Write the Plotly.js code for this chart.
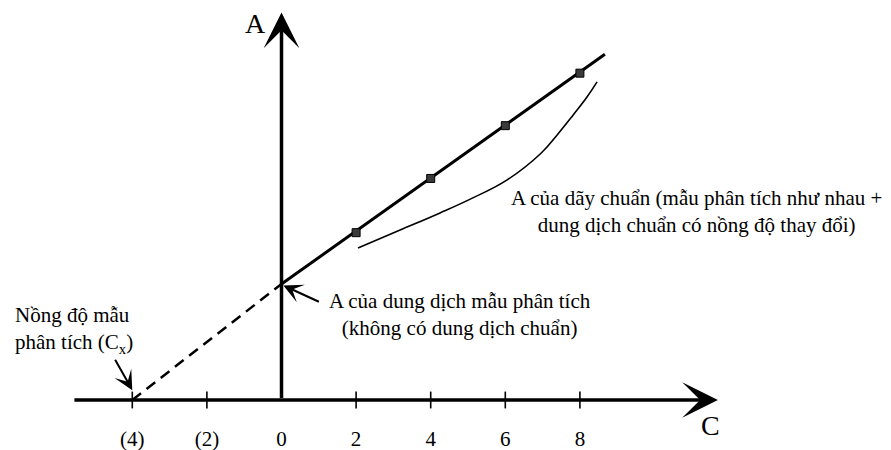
<!DOCTYPE html>
<html>
<head>
<meta charset="utf-8">
<script src="https://cdn.plot.ly/plotly-3.0.1.min.js"></script>
<style>html,body{margin:0;padding:0;background:#fff;}#chart{width:891px;height:450px;}</style>
</head>
<body>
<div id="chart"></div>
<script>
// Concentration tick positions and labels
var tickC = [-4, -2, 0, 2, 4, 6, 8];
var tickLabels = ['(4)', '(2)', '0', '2', '4', '6', '8'];
var tickMarkC = [-4, -2, 2, 4, 6, 8];
var tickMarkA = [0, 0, 0, 0, 0, 0];

// Standard addition line (sample + standard)
var lineC = [0, 8.67];
var lineA = [4.0, 11.92];
var pointC = [2, 4, 6, 8];
var pointA = [5.77, 7.64, 9.46, 11.27];

// Extrapolation to the sample concentration
var extrapC = [-4, 0];
var extrapA = [0, 4.0];

// Curved calibration series
var curveC = [2.05, 3.18, 4.25, 5.13, 6.05, 6.95, 7.39, 7.82, 8.19, 8.46];
var curveA = [5.24, 5.86, 6.45, 6.97, 7.59, 8.50, 9.14, 9.83, 10.45, 10.97];

var FONT = 'Liberation Serif';

var traces = [
  {x: extrapC, y: extrapA, mode: 'lines', line: {color: '#000', width: 2.5, dash: '11px,7px'}, cliponaxis: false, hoverinfo: 'skip'},
  {x: lineC, y: lineA, mode: 'lines', line: {color: '#000', width: 3}, cliponaxis: false, hoverinfo: 'skip'},
  {x: curveC, y: curveA, mode: 'lines', line: {color: '#000', width: 1.6, shape: 'spline', smoothing: 1.2}, cliponaxis: false, hoverinfo: 'skip'},
  {x: pointC, y: pointA, mode: 'markers', marker: {symbol: 'square', size: 8, color: '#3a3a3a', line: {color: '#000', width: 1}}, cliponaxis: false, hoverinfo: 'skip'},
  {x: tickMarkC, y: tickMarkA, mode: 'markers', marker: {symbol: 'line-ns', size: 12, line: {color: '#000', width: 1.6}}, cliponaxis: false, hoverinfo: 'skip'}
];

var layout = {
  width: 891, height: 450,
  margin: {l: 0, r: 0, t: 0, b: 50},
  paper_bgcolor: '#fff', plot_bgcolor: '#fff',
  showlegend: false,
  font: {family: FONT, color: '#000', size: 21},
  xaxis: {
    range: [-281.5 / 37.3, (891 - 281.5) / 37.3],
    tickvals: tickC, ticktext: tickLabels,
    ticks: '', showline: false, showgrid: false, zeroline: false,
    ticklabelstandoff: 24,
    tickfont: {family: FONT, size: 21, color: '#000'},
    fixedrange: true
  },
  yaxis: {
    range: [0, 400 / 29],
    showticklabels: false, ticks: '', showline: false, showgrid: false, zeroline: false,
    fixedrange: true
  },
  annotations: [
    // x axis arrow
    {x: 11.70, y: 0, xref: 'x', yref: 'y', text: '', showarrow: true, arrowhead: 3, arrowsize: 1.7, arrowwidth: 3.5, arrowcolor: '#000', ax: -645, ay: 0, standoff: 0},
    // y axis arrow
    {x: 0, y: 13.36, xref: 'x', yref: 'y', text: '', showarrow: true, arrowhead: 3, arrowsize: 1.7, arrowwidth: 3.5, arrowcolor: '#000', ax: 0, ay: 387, standoff: 0},
    // axis names
    {x: -0.71, y: 13.0, xref: 'x', yref: 'y', text: 'A', showarrow: false, font: {family: FONT, size: 28}},
    {x: 11.51, y: -0.0625, xref: 'x', yref: 'paper', xanchor: 'center', yanchor: 'middle', text: 'C', showarrow: false, font: {family: FONT, size: 28}},
    // intercept pointer
    {x: 0.05, y: 3.95, xref: 'x', yref: 'y', text: '', showarrow: true, arrowhead: 3, arrowsize: 1.6, arrowwidth: 2, arrowcolor: '#000', ax: 37, ay: 17, standoff: 0},
    {x: 4.79, y: 3.9, xref: 'x', yref: 'y', xanchor: 'center', yanchor: 'top', align: 'center',
     text: 'A của dung dịch mẫu phân tích<br>(không có dung dịch chuẩn)', showarrow: false, font: {family: FONT, size: 21}},
    // Cx pointer
    {x: -4, y: 0.34, xref: 'x', yref: 'y', text: '', showarrow: true, arrowhead: 3, arrowsize: 1.6, arrowwidth: 2, arrowcolor: '#000', ax: -18, ay: -32, standoff: 0},
    {x: -7.2, y: 3.41, xref: 'x', yref: 'y', xanchor: 'left', yanchor: 'top', align: 'left',
     text: 'Nồng độ mẫu<br>phân tích (C<sub>x</sub>)', showarrow: false, font: {family: FONT, size: 21}},
    // series label
    {x: 11.13, y: 7.45, xref: 'x', yref: 'y', xanchor: 'center', yanchor: 'top', align: 'center',
     text: 'A của dãy chuẩn (mẫu phân tích như nhau +<br>dung dịch chuẩn có nồng độ thay đổi)', showarrow: false, font: {family: FONT, size: 21}}
  ]
};

Plotly.newPlot('chart', traces, layout, {staticPlot: true, displayModeBar: false});
</script>
</body>
</html>
